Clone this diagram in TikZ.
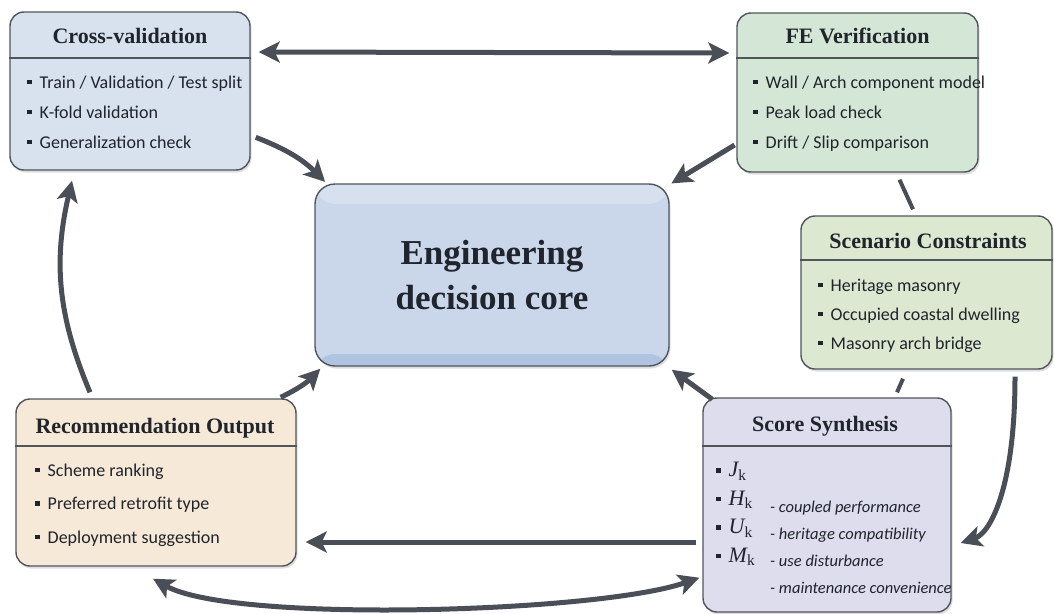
\documentclass[tikz,border=0pt]{standalone}
\usepackage{fontspec}
\setmainfont{Carlito}
\newfontfamily\headfont{Liberation Serif}
\usepackage{tikz}
\usetikzlibrary{arrows.meta,shadows}

\definecolor{edgegray}{HTML}{50555C}
\definecolor{flowgray}{HTML}{4A4E56}
\definecolor{inkdark}{HTML}{20242C}
\definecolor{cvfill}{HTML}{D8E2EF}
\definecolor{fefill}{HTML}{D4E7D6}
\definecolor{scfill}{HTML}{DCE8D0}
\definecolor{ssfill}{HTML}{DDDDEE}
\definecolor{rofill}{HTML}{F6E9D7}
\definecolor{coretop}{HTML}{D7E0EE}
\definecolor{coremid}{HTML}{CAD7EA}
\definecolor{corebot}{HTML}{AFC4E0}

\newcommand{\sqbullet}{\raisebox{4pt}{\rule{4.5pt}{4.5pt}}\hspace{8pt}}
\newcommand{\scorevar}[1]{{\headfont\itshape #1}\textsubscript{\headfont k}}

\tikzset{
  panel/.style={draw=edgegray, line width=1.4pt, rounded corners=14pt,
    drop shadow={opacity=0.25, shadow xshift=1.5pt, shadow yshift=-2.5pt}},
  paneltitle/.style={font=\headfont\bfseries\fontsize{22}{26}\selectfont, text=inkdark, inner sep=0pt},
  panelbody/.style={font=\fontsize{18}{30}\selectfont, text=inkdark, align=left, anchor=north west, inner sep=0pt},
  divider/.style={draw=edgegray, line width=1.4pt},
  flow/.style={draw=flowgray, line width=5pt, -{Stealth[length=21pt,width=21pt,inset=5pt]}},
  flowboth/.style={flow, {Stealth[length=21pt,width=21pt,inset=5pt]}-{Stealth[length=21pt,width=21pt,inset=5pt]}},
  tie/.style={draw=flowgray, line width=4pt}
}

\begin{document}
\begin{tikzpicture}[x=1pt,y=-1pt]
  \fill[white] (0,0) rectangle (1054,613);
  \useasboundingbox (0,0) rectangle (1054,613);

  % panels
  \node[panel, fill=cvfill, minimum width=240pt, minimum height=158pt] at (130,91) (cv) {};
  \node[paneltitle] at (130,36) (cvtitle) {Cross-validation};
  \draw[divider] (cv.west |- 0,58) -- (cv.east |- 0,58);
  \node[panelbody] at (27,75.5) (cvbody) {\sqbullet Train / Validation / Test split\\ \sqbullet K-fold validation\\ \sqbullet Generalization check};

  \node[panel, fill=fefill, minimum width=241pt, minimum height=159pt] at (857.5,92.5) (fe) {};
  \node[paneltitle] at (857.5,36) (fetitle) {FE Verification};
  \draw[divider] (fe.west |- 0,58) -- (fe.east |- 0,58);
  \node[panelbody] at (753,75.5) (febody) {\sqbullet Wall / Arch component model\\ \sqbullet Peak load check\\ \sqbullet Drift / Slip comparison};

  \node[panel, fill=scfill, minimum width=251pt, minimum height=153pt] at (926.5,292.5) (sc) {};
  \node[paneltitle] at (928,241) (sctitle) {Scenario Constraints};
  \draw[divider] (sc.west |- 0,260) -- (sc.east |- 0,260);
  \node[panelbody, font=\fontsize{18}{29}\selectfont] at (818,278.5) (scbody) {\sqbullet Heritage masonry\\ \sqbullet Occupied coastal dwelling\\ \sqbullet Masonry arch bridge};

  \node[panel, fill=ssfill, minimum width=248pt, minimum height=214pt] at (827,505) (ss) {};
  \node[paneltitle] at (825,426) (sstitle) {Score Synthesis};
  \draw[divider] (ss.west |- 0,446) -- (ss.east |- 0,446);
  \node[panelbody, font=\headfont\fontsize{22}{28.5}\selectfont] at (716,462) (ssvars) {\sqbullet\scorevar{J}\\ \sqbullet\scorevar{H}\\ \sqbullet\scorevar{U}\\ \sqbullet\scorevar{M}};
  \node[panelbody, font=\itshape\fontsize{16.5}{27}\selectfont] at (770,501) (ssdesc) {- coupled performance\\- heritage compatibility\\- use disturbance\\- maintenance convenience};

  \node[panel, fill=rofill, minimum width=280pt, minimum height=167pt] at (156,482.5) (ro) {};
  \node[paneltitle] at (155,428) (rotitle) {Recommendation Output};
  \draw[divider] (ro.west |- 0,446) -- (ro.east |- 0,446);
  \node[panelbody, font=\fontsize{18}{33.5}\selectfont] at (35,463.5) (robody) {\sqbullet Scheme ranking\\ \sqbullet Preferred retrofit type\\ \sqbullet Deployment suggestion};

  \node[panel, rounded corners=20pt, fill=coremid,
    path picture={
      \fill[coretop] (path picture bounding box.north west) rectangle ([yshift=-20pt]path picture bounding box.north east);
      \fill[corebot] ([yshift=12pt]path picture bounding box.south west) rectangle (path picture bounding box.south east);},
    minimum width=354pt, minimum height=182pt, align=center, text=inkdark,
    font=\headfont\bfseries\fontsize{35}{45}\selectfont] at (492,275) (core) {Engineering\\decision core};

  % connectors
  \draw[flowboth] ([shift={(8,-39)}]cv.east) -- ([shift={(-7,-39.5)}]fe.west);
  \draw[flow, shorten >=2pt] ([xshift=5pt]cv.-21) to[bend left=12] (core.151);
  \draw[flow, shorten >=2pt, shorten <=2pt] (fe.203) -- (core.27);
  \draw[tie] ([shift={(42,7)}]fe.south) -- ([shift={(-13.5,-6)}]sc.north);
  \draw[tie] ([shift={(-23.5,9)}]sc.south) -- ([shift={(70,-5)}]ss.north);
  \draw[flow] ([shift={(88.5,7)}]sc.south) .. controls +(0,110) and +(30,-10) .. ([shift={(9,38)}]ss.east);
  \draw[flow] ([shift={(10,2)}]ss.north west) -- ([shift={(2,3)}]core.south east);
  \draw[flow] ([shift={(-6,37)}]ss.west) -- ([shift={(9,59.5)}]ro.east);
  \draw[flowboth] ([shift={(-3,12)}]ro.south) .. controls +(80,45) and +(-100,35) .. ([shift={(-3,-35)}]ss.south west);
  \draw[flow] ([shift={(-16,-1)}]ro.north east) to[bend right=10] ([shift={(6,2)}]core.south west);
  \draw[flow] ([shift={(-66,-6)}]ro.north) to[bend left=18] ([shift={(-58,10)}]cv.south);
\end{tikzpicture}
\end{document}
